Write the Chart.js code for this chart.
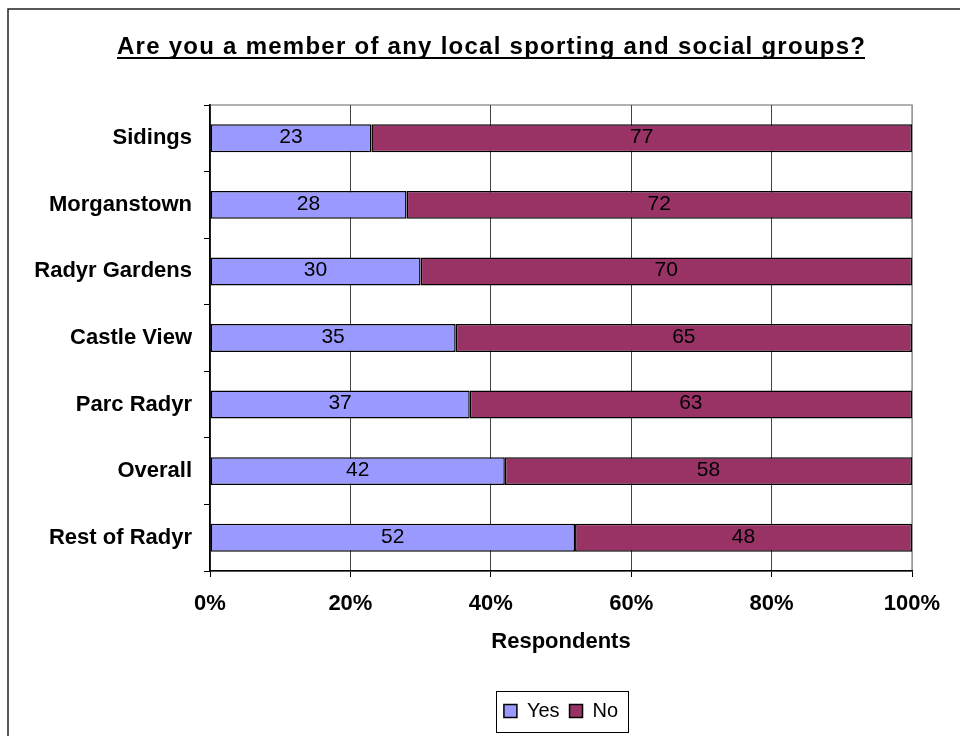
<!DOCTYPE html>
<html lang="en">
<head>
    <meta charset="UTF-8">
    <title>Local sporting and social groups</title>
    <style>
        body { margin: 0; background: #fff; }
        #wrap { width: 960px; height: 736px; }
    </style>
</head>
<body>
    <div id="wrap"><canvas id="chart" width="960" height="736"></canvas></div>

    <script src="https://cdn.jsdelivr.net/npm/chart.js"></script>
    <script>
        const categories = ["Sidings", "Morganstown", "Radyr Gardens", "Castle View", "Parc Radyr", "Overall", "Rest of Radyr"];
        const yesValues = [23, 28, 30, 35, 37, 42, 52];
        const noValues = [77, 72, 70, 65, 63, 58, 48];
        const xTicks = [0, 20, 40, 60, 80, 100];
        const chartTitle = "Are you a member of any local sporting and social groups?";

        const FONT = "'Liberation Sans', Arial, sans-serif";

        // cadre, titre souligné et fond de la zone de tracé
        const framePlugin = {
            id: "frame",
            beforeDraw(chart) {
                const ctx = chart.ctx;
                const a = chart.chartArea;
                ctx.save();
                ctx.fillStyle = "#fff";
                ctx.fillRect(0, 0, chart.width, chart.height);
                ctx.strokeStyle = "#222";
                ctx.lineWidth = 1.5;
                ctx.strokeRect(8, 9, 1000, 1000);
                ctx.strokeStyle = "#999";
                ctx.lineWidth = 1.5;
                ctx.strokeRect(a.left, a.top, a.right - a.left, a.bottom - a.top);

                // titre : largeur visée ~748px comme l'original
                ctx.font = "bold 24px " + FONT;
                ctx.fillStyle = "#000";
                ctx.textAlign = "left";
                ctx.textBaseline = "alphabetic";
                const base = ctx.measureText(chartTitle).width;
                const spacing = Math.max(0, (748 - base) / (chartTitle.length - 1));
                ctx.letterSpacing = spacing + "px";
                const w = ctx.measureText(chartTitle).width - spacing;
                const x0 = 491 - w / 2;
                ctx.fillText(chartTitle, x0, 54);
                ctx.fillRect(x0, 57, w, 2);
                ctx.restore();
            },
            afterDraw(chart) {
                const boxes = chart.legend.legendHitBoxes;
                if (!boxes || !boxes.length) return;
                const ctx = chart.ctx;
                let l = Infinity, r = -Infinity;
                boxes.forEach(b => { l = Math.min(l, b.left); r = Math.max(r, b.left + b.width); });
                ctx.save();
                ctx.strokeStyle = "#000";
                ctx.lineWidth = 1;
                ctx.strokeRect(Math.round(l) - 7.5, 691.5, Math.round(r - l) + 18, 41);
                ctx.restore();
            }
        };

        // valeurs au centre de chaque segment
        const valueLabels = {
            id: "valueLabels",
            afterDatasetsDraw(chart) {
                const ctx = chart.ctx;
                ctx.save();
                ctx.font = "21px " + FONT;
                ctx.fillStyle = "#000";
                ctx.textAlign = "center";
                ctx.textBaseline = "middle";
                chart.data.datasets.forEach((ds, i) => {
                    chart.getDatasetMeta(i).data.forEach((bar, j) => {
                        ctx.fillText(ds.data[j], (bar.x + bar.base) / 2, bar.y - 1);
                    });
                });
                ctx.restore();
            }
        };

        new Chart(document.getElementById("chart"), {
            type: "bar",
            data: {
                labels: categories,
                datasets: [
                    { label: "Yes", data: yesValues, backgroundColor: "#9999FF", borderColor: "#000", borderWidth: 1.5, borderSkipped: false },
                    { label: "No", data: noValues, backgroundColor: "#993366", borderColor: "#000", borderWidth: 1.5, borderSkipped: false }
                ]
            },
            options: {
                indexAxis: "y",
                responsive: false,
                animation: false,
                layout: { padding: { left: 0, right: 48, top: 105, bottom: 5 } },
                datasets: { bar: { barPercentage: 0.42, categoryPercentage: 1 } },
                scales: {
                    x: {
                        stacked: true,
                        min: 0,
                        max: 100,
                        afterFit(scale) { scale.height = 120; },
                        afterBuildTicks(scale) { scale.ticks = xTicks.map(v => ({ value: v })); },
                        ticks: {
                            callback: v => v + "%",
                            color: "#000",
                            padding: 14,
                            font: { family: FONT, size: 22, weight: "bold" }
                        },
                        grid: {
                            color: ctx => ctx.tick && ctx.tick.value === 100 ? "#999" : "#444",
                            lineWidth: 1,
                            tickLength: 6,
                            tickColor: "#000"
                        },
                        border: { color: "#000", width: 1.5 },
                        title: {
                            display: true,
                            text: "Respondents",
                            color: "#000",
                            padding: { top: 0, bottom: 36 },
                            font: { family: FONT, size: 22, weight: "bold" }
                        }
                    },
                    y: {
                        stacked: true,
                        afterFit(scale) { scale.width = 210; },
                        ticks: {
                            color: "#000",
                            padding: 12,
                            font: { family: FONT, size: 22, weight: "bold" }
                        },
                        grid: {
                            offset: true,
                            drawOnChartArea: false,
                            tickLength: 6,
                            tickColor: "#000"
                        },
                        border: { color: "#000", width: 1.5 }
                    }
                },
                plugins: {
                    title: { display: false },
                    tooltip: { enabled: false },
                    legend: {
                        position: "bottom",
                        fullSize: false,
                        labels: {
                            color: "#000",
                            boxWidth: 13,
                            boxHeight: 13,
                            padding: 10,
                            font: { family: FONT, size: 20 }
                        }
                    }
                }
            },
            plugins: [framePlugin, valueLabels]
        });
    </script>
</body>
</html>
